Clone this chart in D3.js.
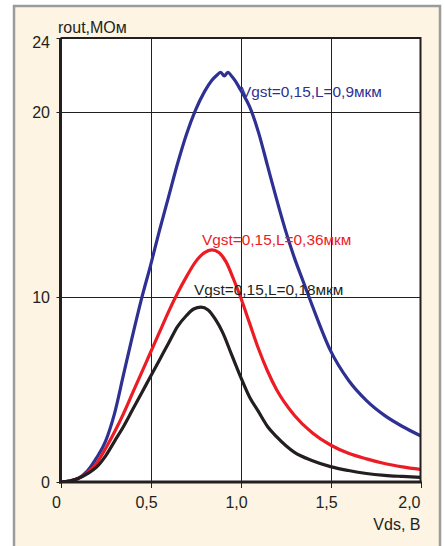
<!DOCTYPE html>
<html>
<head>
<meta charset="utf-8">
<script src="https://cdn.jsdelivr.net/npm/d3@7/dist/d3.min.js"></script>
<style>
  html, body { margin: 0; padding: 0; background: #ffffff; }
  svg text { font-family: "Liberation Sans Narrow", "Arial Narrow", "Liberation Sans", Arial, sans-serif; }
</style>
</head>
<body>
<script>
// Output resistance vs drain voltage for three channel lengths
const blueVds = [0, 0.05, 0.1, 0.15, 0.2, 0.25, 0.3, 0.35, 0.4, 0.45, 0.5, 0.55, 0.6, 0.65, 0.7, 0.75, 0.8, 0.84, 0.87, 0.89, 0.91, 0.93, 0.95, 0.97, 1.0, 1.05, 1.1, 1.15, 1.2, 1.25, 1.3, 1.35, 1.4, 1.5, 1.6, 1.7, 1.8, 1.9, 2.0];
const blueR   = [0, 0.05, 0.2, 0.6, 1.3, 2.2, 3.7, 5.8, 7.9, 9.9, 11.7, 13.6, 15.4, 17.2, 18.8, 20.1, 21.1, 21.7, 22.0, 22.15, 21.95, 22.15, 21.95, 21.7, 21.2, 20.3, 18.9, 17.1, 15.3, 13.6, 12.1, 10.8, 9.5, 7.1, 5.5, 4.4, 3.6, 3.0, 2.5];

const redVds = [0, 0.05, 0.1, 0.15, 0.2, 0.25, 0.3, 0.35, 0.4, 0.45, 0.5, 0.55, 0.6, 0.65, 0.7, 0.75, 0.8, 0.84, 0.88, 0.92, 0.96, 1.0, 1.05, 1.1, 1.15, 1.2, 1.3, 1.4, 1.5, 1.6, 1.7, 1.8, 1.9, 2.0];
const redR   = [0, 0.05, 0.2, 0.5, 1.0, 1.8, 2.7, 3.7, 4.8, 5.9, 7.0, 8.1, 9.2, 10.2, 11.1, 11.9, 12.4, 12.55, 12.4, 11.9, 11.0, 10.0, 8.6, 7.2, 6.0, 5.0, 3.6, 2.65, 2.0, 1.55, 1.25, 1.0, 0.82, 0.68];

const blackVds = [0, 0.05, 0.1, 0.15, 0.2, 0.25, 0.3, 0.35, 0.4, 0.45, 0.5, 0.55, 0.6, 0.65, 0.7, 0.74, 0.78, 0.82, 0.86, 0.9, 0.95, 1.0, 1.05, 1.1, 1.15, 1.2, 1.3, 1.4, 1.5, 1.6, 1.7, 1.8, 1.9, 2.0];
const blackR   = [0, 0.05, 0.2, 0.45, 0.8, 1.4, 2.2, 3.0, 3.9, 4.8, 5.7, 6.6, 7.5, 8.4, 9.0, 9.35, 9.45, 9.3, 8.8, 8.1, 6.9, 5.7, 4.6, 3.8, 3.0, 2.45, 1.6, 1.15, 0.83, 0.62, 0.46, 0.36, 0.3, 0.25];

const seriesNames  = ["Vgst=0,15,L=0,9мкм", "Vgst=0,15,L=0,36мкм", "Vgst=0,15,L=0,18мкм"];
const seriesColors = ["#2e3192", "#ed1c24", "#231f20"];

const xTicks = [0, 0.5, 1.0, 1.5, 2.0];
const xTickLabels = ["0", "0,5", "1,0", "1,5", "2,0"];
const yTicks = [0, 10, 20, 24];
const yTickLabels = ["0", "10", "20", "24"];
const xTitle = "Vds, B";
const yTitle = "rout,MOм";

const W = 445, H = 546;
const plot = { left: 60.5, right: 420.5, top: 38, bottom: 482 };
const ink = "#231f20";
const crisp = v => Math.round(v) + 0.5;

const svg = d3.select("body").append("svg")
  .attr("width", W).attr("height", H);

// cream panel with grey frame (open at the bottom)
svg.append("rect").attr("x", 14).attr("y", 6).attr("width", 426).attr("height", H - 6)
  .attr("fill", "#fdf4e3");
svg.append("path")
  .attr("d", `M14,${H} L14,6 L440,6 L440,${H}`)
  .attr("fill", "none").attr("stroke", "#9b9b9b").attr("stroke-width", 2.5);

const x = d3.scaleLinear().domain([0, 2]).range([plot.left, plot.right]);
const y = d3.scaleLinear().domain([0, 24]).range([plot.bottom, plot.top]);

// white plotting area
svg.append("rect")
  .attr("x", plot.left).attr("y", plot.top)
  .attr("width", plot.right - plot.left).attr("height", plot.bottom - plot.top)
  .attr("fill", "#ffffff");

// grid lines
const grid = svg.append("g").attr("stroke", ink).attr("stroke-width", 1);
grid.selectAll("line.v").data(xTicks.filter(t => t > 0 && t < 2)).join("line")
  .attr("x1", d => crisp(x(d))).attr("x2", d => crisp(x(d)))
  .attr("y1", plot.top).attr("y2", plot.bottom);
grid.selectAll("line.h").data(yTicks.filter(t => t > 0 && t < 24)).join("line")
  .attr("x1", plot.left).attr("x2", plot.right)
  .attr("y1", d => crisp(y(d))).attr("y2", d => crisp(y(d)));

// axes
const xAxis = d3.axisBottom(x).tickValues(xTicks).tickSize(6).tickFormat("");
const yAxis = d3.axisLeft(y).tickValues(yTicks).tickSize(4).tickFormat("");
const gx = svg.append("g").attr("transform", `translate(0,${plot.bottom})`).call(xAxis);
const gy = svg.append("g").attr("transform", `translate(${plot.left},0)`).call(yAxis);
[gx, gy].forEach(g => {
  g.select(".domain").remove();
  g.selectAll(".tick line").attr("stroke", ink).attr("stroke-width", 1);
});
gy.selectAll(".tick").attr("transform", d => `translate(0,${crisp(y(d))})`);
gx.selectAll(".tick").attr("transform", d => `translate(${crisp(x(d))},0)`);

// curves
const line = d3.line().x(d => x(d[0])).y(d => y(d[1])).curve(d3.curveMonotoneX);
const series = [
  d3.zip(blueVds, blueR),
  d3.zip(redVds, redR),
  d3.zip(blackVds, blackR)
];
const clipId = "plotclip";
svg.append("clipPath").attr("id", clipId).append("rect")
  .attr("x", plot.left).attr("y", plot.top - 2)
  .attr("width", plot.right - plot.left).attr("height", plot.bottom - plot.top + 2);
svg.append("g").attr("clip-path", `url(#${clipId})`)
  .selectAll("path").data(series).join("path")
  .attr("d", line)
  .attr("fill", "none")
  .attr("stroke", (d, i) => seriesColors[i])
  .attr("stroke-width", 3.2)
  .attr("stroke-linejoin", "round")
  .attr("stroke-linecap", "round");

// plot frame: heavy left/bottom axes, thinner top/right border
svg.append("line").attr("x1", plot.left).attr("x2", plot.left)
  .attr("y1", plot.top).attr("y2", plot.bottom + 1.5)
  .attr("stroke", ink).attr("stroke-width", 3);
svg.append("line").attr("x1", plot.left - 1.5).attr("x2", plot.right + 1)
  .attr("y1", plot.bottom).attr("y2", plot.bottom)
  .attr("stroke", ink).attr("stroke-width", 3);
svg.append("path")
  .attr("d", `M${plot.left},${plot.top} L${plot.right},${plot.top} L${plot.right},${plot.bottom}`)
  .attr("fill", "none").attr("stroke", ink).attr("stroke-width", 2);

// tick labels
const fs = 16;
svg.append("g").selectAll("text").data(yTicks).join("text")
  .attr("x", 50)
  .attr("y", (d, i) => y(d) + (d === 24 ? 9.5 : 6))
  .attr("text-anchor", "end")
  .attr("font-size", fs).attr("fill", ink)
  .text((d, i) => yTickLabels[i]);

svg.append("g").selectAll("text").data(xTicks).join("text")
  .attr("x", (d, i) => i === xTicks.length - 1 ? plot.right : x(d) - 4)
  .attr("y", 508)
  .attr("text-anchor", (d, i) => i === xTicks.length - 1 ? "end" : "middle")
  .attr("font-size", fs).attr("fill", ink)
  .text((d, i) => xTickLabels[i]);

// axis titles
svg.append("text").attr("x", 58).attr("y", 33)
  .attr("font-size", fs).attr("fill", ink).text(yTitle);
svg.append("text").attr("x", plot.right).attr("y", 530)
  .attr("text-anchor", "end")
  .attr("font-size", fs).attr("fill", ink).text(xTitle);

// curve labels
const labelPos = [[241, 97], [202, 245], [194, 295]];
svg.append("g").selectAll("text").data(seriesNames).join("text")
  .attr("x", (d, i) => labelPos[i][0])
  .attr("y", (d, i) => labelPos[i][1])
  .attr("font-size", 15.4)
  .attr("fill", (d, i) => seriesColors[i])
  .text(d => d);
</script>
</body>
</html>
